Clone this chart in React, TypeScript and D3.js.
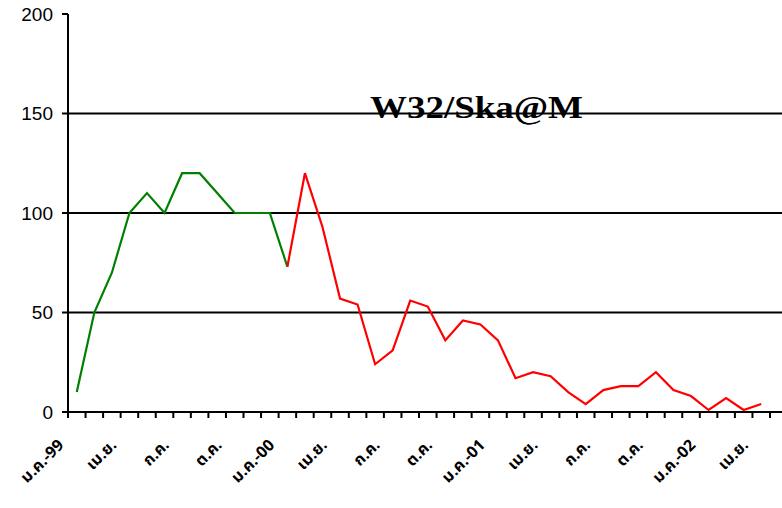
import React from "react";
import * as d3 from "d3";

const values: number[] = [10, 50, 70, 100, 110, 100, 120, 120, 110, 100, 100, 100, 73, 120, 93, 57, 54, 24, 31, 56, 53, 36, 46, 44, 36, 17, 20, 18, 10, 4, 11, 13, 13, 20, 11, 8, 1, 7, 1, 4];
const greenEnd = 12; // green segment: indices 0..12, red: 12..end
const xLabels: string[] = ["ม.ค.-99", "เม.ย.", "ก.ค.", "ต.ค.", "ม.ค.-00", "เม.ย.", "ก.ค.", "ต.ค.", "ม.ค.-01", "เม.ย.", "ก.ค.", "ต.ค.", "ม.ค.-02", "เม.ย."];
const yTicks: number[] = [0, 50, 100, 150, 200];
const gridValues: number[] = [50, 100, 150];
const title = "W32/Ska@M";

const W = 782;
const H = 508;
const left = 68;
const top = 14;
const bottom = 412;
const catW = 17.55;

export default function App() {
  const n = values.length;
  const idx = d3.range(n);
  const x = d3.scaleBand<number>().domain(idx).range([left, left + catW * n]).padding(0);
  const y = d3.scaleLinear().domain([0, 200]).range([bottom, top]);
  const cx = (i: number) => (x(i) as number) + x.bandwidth() / 2;
  const line = d3.line<number>().x((d) => cx(d)).y((d) => y(values[d]));
  const greenIdx = idx.filter((i) => i <= greenEnd);
  const redIdx = idx.filter((i) => i >= greenEnd);
  const tickXs = d3.range(n + 1).map((k) => left + k * x.bandwidth());

  return (
    <svg width={W} height={H} style={{ position: "absolute", left: 0, top: 0, background: "#fff" }}>
      {gridValues.map((v) => (
        <line key={v} x1={left} x2={W} y1={y(v)} y2={y(v)} stroke="#000" strokeWidth={2} />
      ))}
      <text x={370} y={118} fontFamily="'Liberation Serif', 'Times New Roman', serif" fontWeight="bold" fontSize={32} textLength={213} lengthAdjust="spacingAndGlyphs" fill="#000">{title}</text>
      {/* y axis */}
      <line x1={left} x2={left} y1={top} y2={bottom + 6} stroke="#000" strokeWidth={2} />
      {yTicks.map((v) => (
        <g key={v}>
          <line x1={left - 6} x2={left} y1={y(v)} y2={y(v)} stroke="#000" strokeWidth={2} />
          <text x={53} y={y(v) + 6.5} textAnchor="end" fontFamily="'Liberation Sans', Arial, sans-serif" fontSize={19} fill="#000">{v}</text>
        </g>
      ))}
      {/* x axis */}
      <line x1={left} x2={W} y1={bottom} y2={bottom} stroke="#000" strokeWidth={2} />
      {tickXs.map((tx, k) => (
        <line key={k} x1={tx} x2={tx} y1={bottom} y2={bottom + 6} stroke="#000" strokeWidth={2} />
      ))}
      {xLabels.map((lab, j) => {
        const i = j * 3;
        const lx = cx(i) - 12;
        const ly = 446;
        return (
          <text key={j} x={lx} y={ly} textAnchor="end" transform={`rotate(-45 ${lx} ${ly})`} fontFamily="'Noto Sans Thai', 'Tahoma', 'DejaVu Sans', sans-serif" fontWeight="bold" fontSize={16} fill="#000">{lab}</text>
        );
      })}
      <path d={line(greenIdx) || ""} fill="none" stroke="#008000" strokeWidth={2.2} strokeLinejoin="miter" />
      <path d={line(redIdx) || ""} fill="none" stroke="#ff0000" strokeWidth={2.2} strokeLinejoin="miter" />
    </svg>
  );
}
